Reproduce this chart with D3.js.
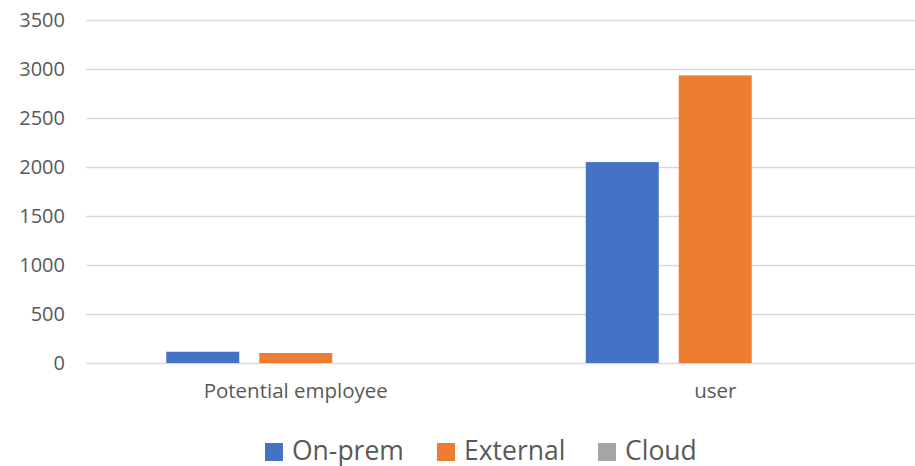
<!DOCTYPE html>
<html>
<head>
<meta charset="utf-8">
<script src="https://cdn.jsdelivr.net/npm/d3@7"></script>
<style>
  html, body { margin: 0; padding: 0; background: #fff; }
  svg { display: block; font-family: "Open Sans", sans-serif; }
</style>
</head>
<body>
<svg id="chart" width="915" height="466"></svg>
<script>
// Series data
const categories = ["Potential employee", "user"];
const seriesNames = ["On-prem", "External", "Cloud"];
const onPrem = [115, 2050];
const external = [102, 2935];
const cloud = [0, 0];
const yTicks = [0, 500, 1000, 1500, 2000, 2500, 3000, 3500];
const colors = ["#4472C4", "#ED7D31", "#A5A5A5"];

const seriesValues = [onPrem, external, cloud];

const svg = d3.select("#chart");
const plot = { left: 86, right: 925, top: 20, bottom: 363 };

const x = d3.scaleBand().domain(categories).range([plot.left, plot.right]);
const xs = d3.scaleBand().domain(seriesNames).range([0, x.bandwidth()])
  .paddingInner(20 / 93).paddingOuter(0.863);
const y = d3.scaleLinear().domain([0, 3500]).range([plot.bottom, plot.top]);

// Gridlines
svg.append("g")
  .selectAll("line")
  .data(yTicks)
  .join("line")
  .attr("x1", plot.left).attr("x2", 915)
  .attr("y1", d => Math.round(y(d)) + 0.5).attr("y2", d => Math.round(y(d)) + 0.5)
  .attr("stroke", "#d9d9d9").attr("stroke-width", 1.5);

// Y axis labels
const yAxis = d3.axisLeft(y).tickValues(yTicks).tickFormat(d3.format("d"))
  .tickSize(0).tickPadding(0);
const ya = svg.append("g").attr("transform", "translate(65,0)").call(yAxis);
ya.select(".domain").remove();
ya.selectAll("text").attr("fill", "#595959").style("font-size", "20px")
  .style("font-family", "'Open Sans', sans-serif");

// Bars
const groups = svg.append("g").selectAll("g")
  .data(categories)
  .join("g")
  .attr("transform", d => `translate(${x(d)},0)`);

groups.selectAll("rect")
  .data((c, i) => seriesNames.map((s, j) => ({ s, v: seriesValues[j][i], j })))
  .join("rect")
  .attr("x", d => xs(d.s))
  .attr("width", xs.bandwidth())
  .attr("y", d => y(d.v))
  .attr("height", d => plot.bottom - y(d.v))
  .attr("fill", d => colors[d.j]);

// Category labels
const xAxis = d3.axisBottom(x).tickSize(0).tickPadding(0);
const xa = svg.append("g").attr("transform", `translate(0,${plot.bottom + 20})`).call(xAxis);
xa.select(".domain").remove();
xa.selectAll("text").attr("fill", "#595959").style("font-size", "20.5px")
  .style("font-family", "'Open Sans', sans-serif");

// Legend
const legendX = [265, 437, 598];
const legend = svg.append("g").selectAll("g")
  .data(seriesNames)
  .join("g")
  .attr("transform", (d, i) => `translate(${legendX[i]},443)`);
legend.append("rect").attr("width", 18).attr("height", 18).attr("fill", (d, i) => colors[i]);
legend.append("text").attr("x", 27).attr("y", 16.5)
  .attr("fill", "#595959").style("font-size", "26.5px").text(d => d);
</script>
</body>
</html>
